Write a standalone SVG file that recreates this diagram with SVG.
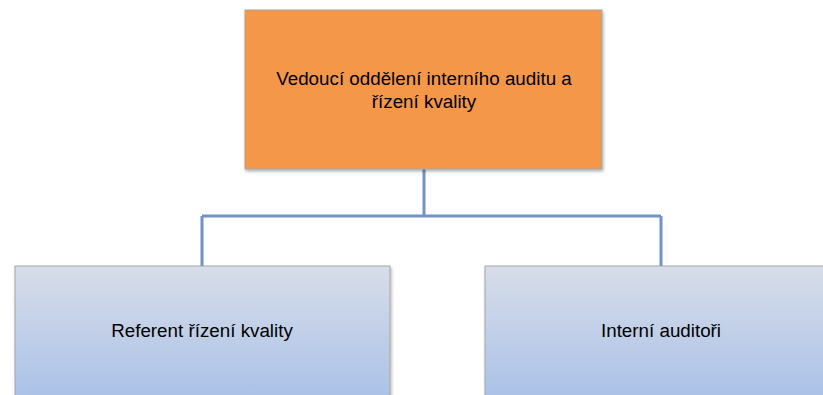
<svg xmlns="http://www.w3.org/2000/svg" width="823" height="395" viewBox="0 0 823 395">
<style>
.lbl{font-family:"Liberation Sans",Arial,sans-serif;font-size:18.8px;fill:#000;text-anchor:middle}
.conn{fill:none;stroke:#7293c9;stroke-width:3}
.box{stroke:#a6a6a6;stroke-width:1}
</style>
<defs>
<linearGradient id="blue" x1="0" y1="0" x2="0" y2="1">
<stop offset="0" stop-color="#d7dde9"/>
<stop offset="1" stop-color="#a8c0e7"/>
</linearGradient>
<filter id="sh" x="-5%" y="-5%" width="110%" height="115%">
<feDropShadow dx="1" dy="2" stdDeviation="1.5" flood-color="#000" flood-opacity="0.3"/>
</filter>
</defs>
<g id="connectors">
<path class="conn" d="M424 169 V216 M202 216 H661 M202 216 V266 M661 216 V266"/>
</g>
<g id="node-head">
<rect class="box" x="245" y="10" width="357" height="159" fill="#f49748" filter="url(#sh)"/>
<text class="lbl" x="424" y="85">Vedoucí oddělení interního auditu a</text>
<text class="lbl" x="424" y="108">řízení kvality</text>
</g>
<g id="node-referent">
<rect class="box" x="15" y="266" width="375" height="140" fill="url(#blue)" filter="url(#sh)"/>
<text class="lbl" x="202" y="337">Referent řízení kvality</text>
</g>
<g id="node-auditori">
<rect class="box" x="485" y="266" width="350" height="140" fill="url(#blue)" filter="url(#sh)"/>
<text class="lbl" x="661" y="337">Interní auditoři</text>
</g>
</svg>
